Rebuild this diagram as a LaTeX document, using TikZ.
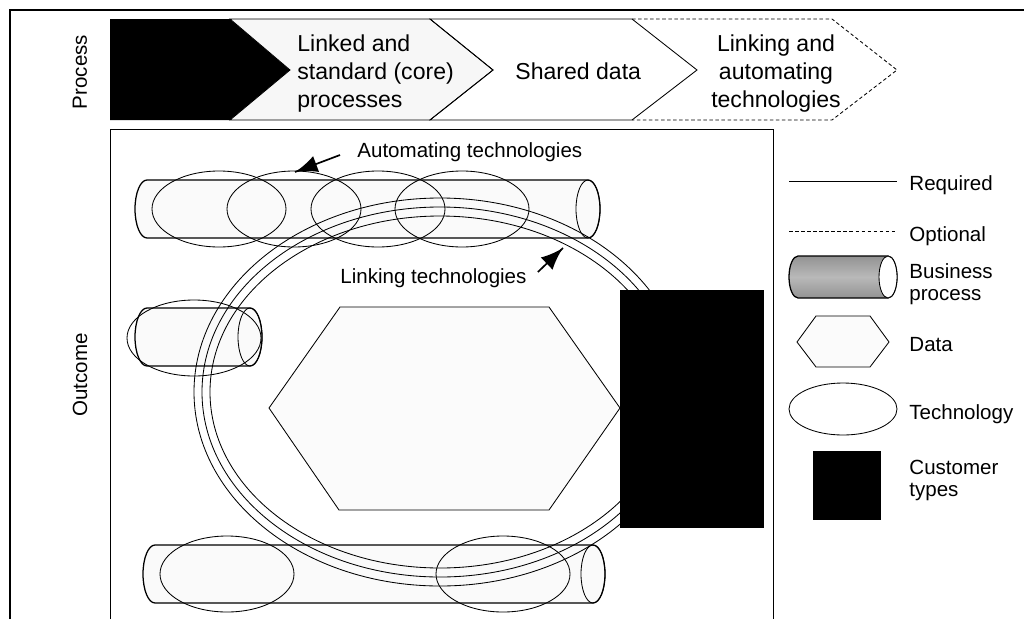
\documentclass[tikz,border=0pt]{standalone}
\usepackage{fontspec}
\setmainfont{Liberation Sans}
\usetikzlibrary{arrows}
\usetikzlibrary{decorations.markings}
\tikzset{pointer/.style = {line width=1.2pt,
                           decoration={markings,
                                       mark=at position 1 with {\arrow[scale=2.5]{latex}}},
                           postaction={decorate}}}
\tikzset{lbl/.style = {inner sep=0pt, font=\fontsize{14.6}{15.5}\selectfont}}
\tikzset{steptext/.style = {inner sep=0pt, font=\fontsize{16.4}{19.9}\selectfont}}
\tikzset{optline/.style = {dash pattern=on 2.5pt off 1.8pt}}
\tikzset{bizbody/.style = {line width=0.9pt, fill=gray!4}}
\tikzset{linkring/.style = {line width=0.6pt}}

\begin{document}
\begin{tikzpicture}[x=0.025cm, y=-0.025cm, line width=0.6pt]
    \useasboundingbox (0,0) rectangle (1024,619);
    \draw [line width=0.8pt] (10,619) -- (10,10) -- (1024,10);
    \draw (110,619) -- (110,129) -- (773,129) -- (773,619);

    % process steps
    \fill (110,19) -- (230,19) -- (290,70) -- (230,120) -- (110,120) -- cycle;
    \draw [fill=gray!6] (230,19) -- (430,19) -- (493,70) -- (430,120) -- (230,120) -- (290,70) -- cycle;
    \draw (430,19) -- (632,19) -- (697,70) -- (632,120) -- (430,120) -- (493,70) -- cycle;
    \draw [optline] (632,19) -- (832,19) -- (897,70) -- (832,120) -- (632,120);
    \node (stepLinked) at (297,107) [steptext, anchor=base west, align=left] {Linked and\\standard (core)\\processes};
    \node (stepShared) at (515,79) [steptext, anchor=base west] {Shared data};
    \node (stepAuto) at (776,107) [steptext, anchor=base, align=center] {Linking and\\automating\\technologies};

    \node (procLbl) at (80,72) [lbl, rotate=90] {Process};
    \node (outLbl) at (80,375) [lbl, rotate=90] {Outcome};

    % business processes
    \foreach \xa/\xb/\yc in {147/588/209, 147/250/337, 155/593/574} {
      \draw [bizbody] (\xa,\yc-29) -- (\xb,\yc-29)
        arc [start angle=-90, end angle=90, x radius=12, y radius=29]
        -- (\xa,\yc+29)
        arc [start angle=90, end angle=270, x radius=12, y radius=29] -- cycle;
      \draw (\xb,\yc) ellipse [x radius=12, y radius=29];
    }

    % technologies
    \foreach \cx/\cy in {219/209, 294/209, 378/209, 462/209, 194/338, 227/574, 503/574} {
      \draw (\cx,\cy) ellipse [x radius=67, y radius=38];
    }
    \foreach \rx/\ry in {246/194, 238/185, 230/176} {
      \draw [linkring] (440,392) ellipse [x radius=\rx, y radius=\ry];
    }

    % data and customers
    \draw [fill=gray!3] (340,307) -- (549,307) -- (620,408) -- (549,510) -- (339,510) -- (269,408) -- cycle;
    \fill (620,290) rectangle (764,528);

    \node (autoLbl) at (357,157) [lbl, anchor=base west] {Automating technologies};
    \coordinate (autoTip) at (295,172);
    \draw [pointer] ([shift={(-17,-2)}]autoLbl.base west) -- (autoTip);
    \node (linkLbl) at (340,283) [lbl, anchor=base west] {Linking technologies};
    \coordinate (linkTip) at (563,248);
    \draw [pointer] ([shift={(11,-11)}]linkLbl.base east) -- (linkTip);

    % legend
    \draw (789,181) -- (897,181);
    \node (legReq) at (909,190) [lbl, anchor=base west] {Required};
    \draw [optline] (789,231) -- (897,231);
    \node (legOpt) at (909,241) [lbl, anchor=base west] {Optional};
    \draw [line width=0.9pt, top color=gray!85, bottom color=gray!85, middle color=gray!55]
      (798,256) -- (888,256) arc [start angle=-90, end angle=90, x radius=9, y radius=21]
      -- (798,298) arc [start angle=90, end angle=270, x radius=9, y radius=21] -- cycle;
    \draw [fill=white] (888,277) ellipse [x radius=9, y radius=21];
    \node (legBiz) at (909,300) [lbl, anchor=base west, align=left] {Business\\process};
    \draw [fill=gray!3] (797,342) -- (816,316) -- (870,316) -- (889,342) -- (870,367) -- (816,367) -- cycle;
    \node (legData) at (909,351) [lbl, anchor=base west] {Data};
    \draw (843,409) ellipse [x radius=54, y radius=26];
    \node (legTech) at (909,419) [lbl, anchor=base west] {Technology};
    \fill (813,451) rectangle (881,520);
    \node (legCust) at (909,496) [lbl, anchor=base west, align=left] {Customer\\types};
\end{tikzpicture}
\end{document}
